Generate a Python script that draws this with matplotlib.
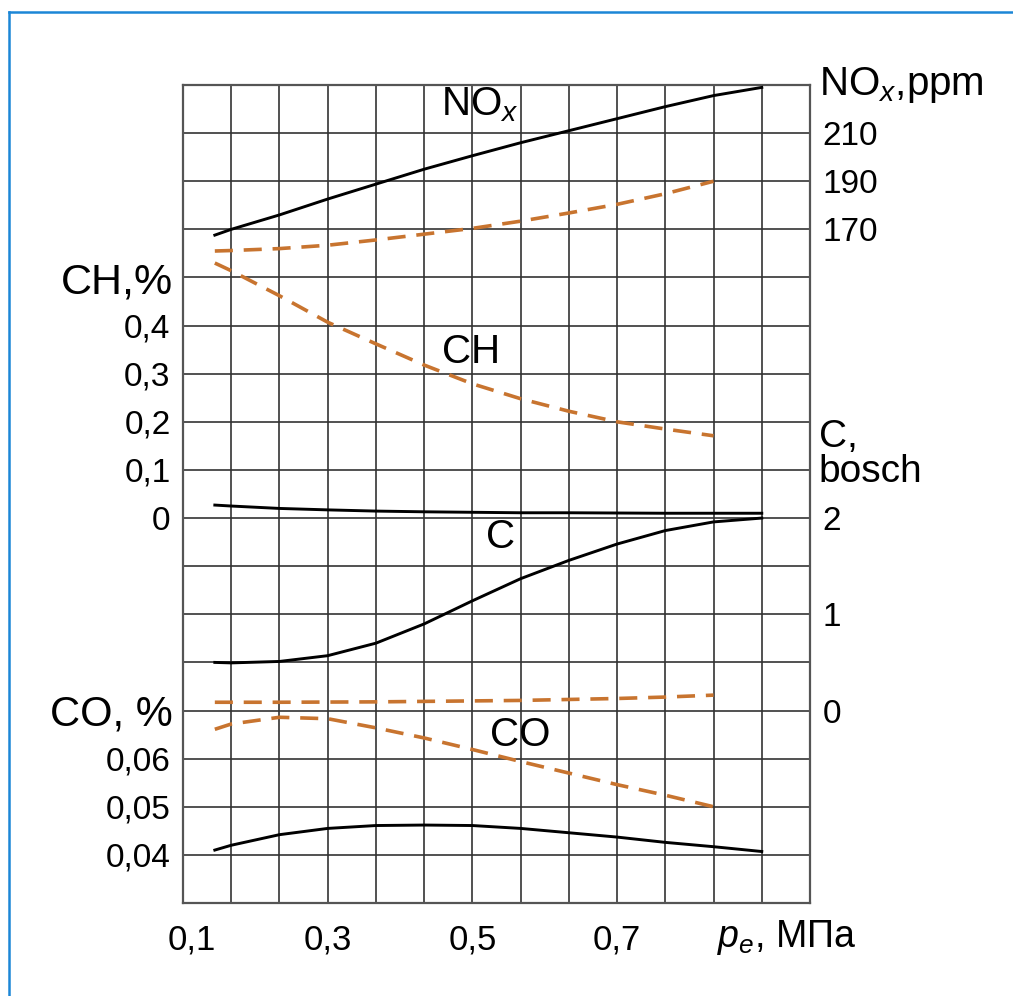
import matplotlib
matplotlib.use("Agg")
import matplotlib.pyplot as plt
from matplotlib.lines import Line2D
from matplotlib.transforms import blended_transform_factory

plt.rcParams['font.family'] = ['Liberation Sans', 'DejaVu Sans']
plt.rcParams['mathtext.fontset'] = 'custom'
plt.rcParams['mathtext.rm'] = 'Liberation Sans'
plt.rcParams['mathtext.it'] = 'Liberation Sans:italic'

# x positions in grid columns (labels of the p_e axis are not evenly spaced)
x_solid = [0.66, 1, 2, 3, 4, 5, 6, 7, 8, 9, 10, 11, 12]
x_dash = [0.66, 1, 2, 3, 4, 5, 6, 7, 8, 9, 10, 11]
x_tick_pos = [0.18, 3, 6, 9]
x_tick_labels = ['0,1', '0,3', '0,5', '0,7']

# NOx, ppm
nox_solid = [167.6, 170.0, 176.0, 182.6, 188.8, 195.0, 200.6, 206.0, 211.0, 216.0, 221.0, 225.6, 229.0]
nox_dash = [161.0, 161.2, 162.0, 163.4, 165.6, 168.0, 170.4, 173.4, 176.8, 180.4, 184.8, 190.0]
# CH, %
ch_solid = [0.027, 0.025, 0.020, 0.017, 0.0145, 0.013, 0.012, 0.011, 0.011, 0.0105, 0.010, 0.010, 0.010]
ch_dash = [0.53, 0.514, 0.462, 0.407, 0.362, 0.318, 0.279, 0.248, 0.222, 0.200, 0.185, 0.171]
# C, bosch
c_solid = [0.50, 0.495, 0.51, 0.57, 0.70, 0.90, 1.14, 1.37, 1.56, 1.73, 1.87, 1.96, 2.0]
c_dash = [0.086, 0.086, 0.086, 0.088, 0.09, 0.095, 0.10, 0.105, 0.115, 0.125, 0.14, 0.16]
# CO, %
co_solid = [0.0410, 0.0420, 0.0442, 0.0455, 0.0461, 0.0462, 0.0461, 0.0455, 0.0446, 0.0437, 0.0426, 0.0417, 0.0407]
co_dash = [0.0661, 0.0672, 0.0686, 0.0683, 0.0664, 0.0643, 0.0619, 0.0594, 0.0570, 0.0546, 0.0524, 0.0500]

ch_ticks = [0, 0.1, 0.2, 0.3, 0.4]
ch_labels = ['0', '0,1', '0,2', '0,3', '0,4']
co_ticks = [0.04, 0.05, 0.06]
co_labels = ['0,04', '0,05', '0,06']
nox_ticks = [170, 190, 210]
nox_labels = ['170', '190', '210']
c_ticks = [0, 1, 2]
c_labels = ['0', '1', '2']

W, H = 1013, 996
fig = plt.figure(figsize=(W / 100, H / 100), dpi=100)
base = fig.add_axes([183 / W, (H - 903) / H, (810 - 183) / W, (903 - 85) / H])

grid_col = '#333333'
base.set_xlim(0, 13)
base.set_ylim(0, 17)
base.set_xticks(range(14))
base.set_yticks(range(18))
base.grid(True, which='major', color=grid_col, lw=1.2)
base.tick_params(which='major', length=0, labelbottom=False, labelleft=False)
base.xaxis.remove_overlapping_locs = False
base.set_xticks(x_tick_pos, minor=True)
base.set_xticklabels(x_tick_labels, minor=True)
base.tick_params(axis='x', which='minor', length=0, pad=15, labelsize=25)
for s in base.spines.values():
    s.set_color('#555555')
    s.set_linewidth(1.6)

base.text(11.08, -0.72, '$p_e$, МПа', fontsize=27, ha='left', va='center')

orange = '#c8742f'
dash = (0, (5, 3))
fs = 24
name_fs = 29


def twin(lim, ticks, labels, side):
    a = base.twinx()
    a.set_ylim(*lim)
    for s in a.spines.values():
        s.set_visible(False)
    a.set_yticks(ticks)
    a.set_yticklabels(labels)
    if side == 'left':
        a.tick_params(axis='y', left=True, labelleft=True, right=False,
                      labelright=False, length=0, pad=9, labelsize=fs)
    else:
        a.tick_params(axis='y', left=False, labelleft=False, right=True,
                      labelright=True, length=0, pad=9, labelsize=fs)
    return a


ax_ch = twin((-0.8, 0.9), ch_ticks, ch_labels, 'left')
ax_co = twin((0.03, 0.20), co_ticks, co_labels, 'left')
ax_nox = twin((-110, 230), nox_ticks, nox_labels, 'right')
ax_c = twin((-2, 6.5), c_ticks, c_labels, 'right')

# axis unit captions
ax_ch.text(-0.016, 0.4895, 'CH,%', fontsize=31, ha='right', va='center',
           transform=blended_transform_factory(ax_ch.transAxes, ax_ch.transData))
ax_co.text(-0.016, 0.0692, 'CO, %', fontsize=30, ha='right', va='center',
           transform=blended_transform_factory(ax_co.transAxes, ax_co.transData))
ax_nox.text(1.014, 230, 'NO$_x$,ppm', fontsize=29, ha='left', va='center',
            transform=blended_transform_factory(ax_nox.transAxes, ax_nox.transData))
ax_c.text(1.014, 2.66, 'C,\nbosch', fontsize=28, ha='left', va='center',
          linespacing=0.95,
          transform=blended_transform_factory(ax_c.transAxes, ax_c.transData))

ax_nox.plot(x_solid, nox_solid, color='black', lw=2.1)
ax_nox.plot(x_dash, nox_dash, color=orange, lw=2.6, ls=dash)
ax_ch.plot(x_solid, ch_solid, color='black', lw=2.1)
ax_ch.plot(x_dash, ch_dash, color=orange, lw=2.6, ls=dash)
ax_c.plot(x_solid, c_solid, color='black', lw=2.1)
ax_c.plot(x_dash, c_dash, color=orange, lw=2.6, ls=dash)
ax_co.plot(x_solid, co_solid, color='black', lw=2.1)
ax_co.plot(x_dash, co_dash, color=orange, lw=2.6, ls=dash)

# curve names
base.text(6.16, 16.6, 'NO$_x$', fontsize=name_fs, ha='center', va='center')
base.text(5.98, 11.45, 'CH', fontsize=name_fs, ha='center', va='center')
base.text(6.58, 7.6, 'C', fontsize=name_fs, ha='center', va='center')
base.text(6.99, 3.5, 'CO', fontsize=name_fs, ha='center', va='center')

# blue outer frame
blue = '#1c86d6'
fig.add_artist(Line2D([9 / W, 9 / W], [0, (H - 12) / H], color=blue, lw=1.8,
                      transform=fig.transFigure))
fig.add_artist(Line2D([9 / W, 1], [(H - 12) / H, (H - 12) / H], color=blue, lw=1.8,
                      transform=fig.transFigure))

fig.savefig('out.png', dpi=100)
